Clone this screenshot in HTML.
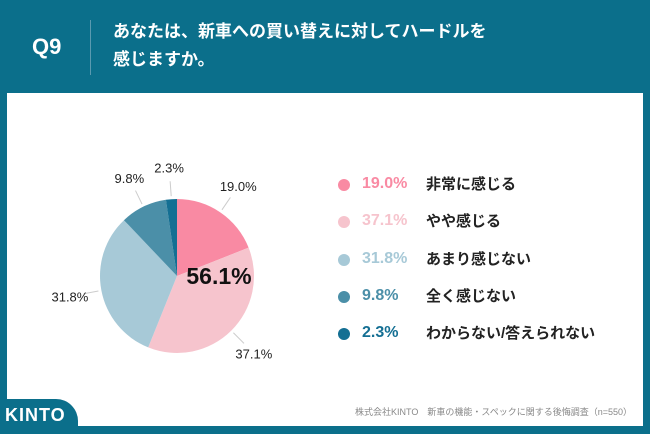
<!DOCTYPE html>
<html><head><meta charset="utf-8"><style>
body{margin:0;width:650px;height:434px;overflow:hidden;background:#0b6f8b;font-family:"Liberation Sans","Noto Sans CJK JP",sans-serif;position:relative}
.panel{position:absolute;left:7px;top:93px;width:636px;height:333px;background:#fff}
.q{position:absolute;left:32px;top:34px;color:#fff;font-size:22px;font-weight:bold}
.div{position:absolute;left:90px;top:20px;width:1px;height:55px;background:#5a9ab0}
.title{position:absolute;left:113px;top:18px;color:#fff;font-size:17px;font-weight:bold;line-height:28px}
.tab{position:absolute;left:0;top:399px;width:78px;height:35px;background:#0b6f8b;border-top-right-radius:22px}
.logo{position:absolute;left:5px;top:405px;color:#fff;font-size:18px;font-weight:bold;letter-spacing:1px}
.src{position:absolute;right:18px;top:405px;font-size:9px;color:#888}
.leg{position:absolute;left:338px;font-size:15px;font-weight:bold;height:20px}
.leg .d{position:absolute;left:0;top:4px;width:12px;height:12px;border-radius:50%}
.leg .p{position:absolute;left:24px;top:0;font-size:16px}
.leg .l{position:absolute;left:88px;top:-2px;color:#222;white-space:nowrap}
</style></head><body>
<div class="q">Q9</div>
<div class="div"></div>
<div class="title">あなたは、新車への買い替えに対してハードルを<br>感じますか。</div>
<div class="panel"></div>
<svg id="pie" width="650" height="434" style="position:absolute;left:0;top:0"></svg>
<div id="legend"></div>
<div class="tab"></div>
<div class="logo">KINTO</div>
<div class="src">株式会社KINTO　新車の機能・スペックに関する後悔調査（n=550）</div>
<script>
const categories=["非常に感じる","やや感じる","あまり感じない","全く感じない","わからない/答えられない"];
const values=[19.0,37.1,31.8,9.8,2.3];
const labels=["19.0%","37.1%","31.8%","9.8%","2.3%"];
const colors=["#f98aa3","#f6c4cd","#a7c9d7","#4b8fa8","#146f93"];
const ns="http://www.w3.org/2000/svg";
const svg=document.getElementById('pie');
const cx=177,cy=276,r=77;
const total=values.reduce((a,b)=>a+b,0);
let a0=0;
function pt(a,rr){return [cx+rr*Math.sin(a),cy-rr*Math.cos(a)];}
values.forEach((v,i)=>{
  const a1=a0+v/total*2*Math.PI;
  const p0=pt(a0,r),p1=pt(a1,r);
  const path=document.createElementNS(ns,'path');
  path.setAttribute('d',`M${cx},${cy}L${p0[0]},${p0[1]}A${r},${r} 0 ${a1-a0>Math.PI?1:0} 1 ${p1[0]},${p1[1]}Z`);
  path.setAttribute('fill',colors[i]);
  
  
  svg.appendChild(path);
  const m=(a0+a1)/2;
  const l0=pt(m,r+3),l1=pt(m,r+18);
  const ln=document.createElementNS(ns,'line');
  ln.setAttribute('x1',l0[0]);ln.setAttribute('y1',l0[1]);ln.setAttribute('x2',l1[0]);ln.setAttribute('y2',l1[1]);
  ln.setAttribute('stroke','#ccc');ln.setAttribute('stroke-width','1');
  
  
  svg.appendChild(ln);
  const lp=pt(m,r+32);
  const t=document.createElementNS(ns,'text');
  t.setAttribute('x',lp[0]);t.setAttribute('y',lp[1]+5);
  t.setAttribute('text-anchor','middle');t.setAttribute('font-size','13');t.setAttribute('fill','#222');
  t.setAttribute('font-family','Liberation Sans, sans-serif');
  t.textContent=labels[i];
  
  
  svg.appendChild(t);
  a0=a1;
});
const c=document.createElementNS(ns,'text');
c.setAttribute('x',219);c.setAttribute('y',284);c.setAttribute('text-anchor','middle');
c.setAttribute('font-size','23');c.setAttribute('font-weight','bold');c.setAttribute('fill','#111');
c.setAttribute('font-family','Liberation Sans, sans-serif');
c.textContent=(values[0]+values[1]).toFixed(1)+'%';


svg.appendChild(c);
const leg=document.getElementById('legend');
categories.forEach((cat,i)=>{
  const d=document.createElement('div');
  d.className='leg';d.style.top=(175+i*37.3)+'px';
  
  
  d.innerHTML=`<span class="d" style="background:${colors[i]}"></span><span class="p" style="color:${colors[i]}">${labels[i]}</span><span class="l">${cat}</span>`;
  leg.appendChild(d);
});
</script>
</body></html>
